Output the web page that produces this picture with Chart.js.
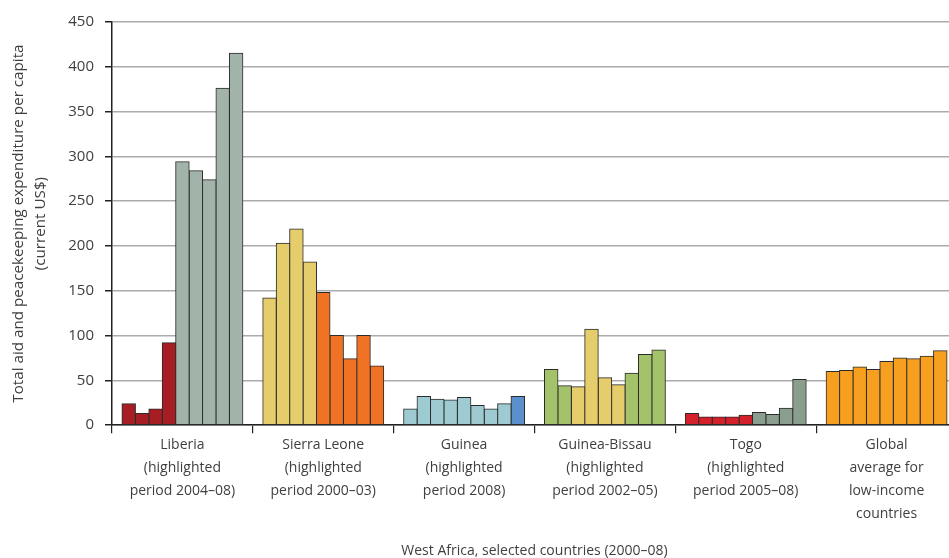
<!DOCTYPE html>
<html>
<head>
<meta charset="utf-8">
<script src="https://cdn.jsdelivr.net/npm/chart.js@4"></script>
<style>
  html, body { margin: 0; padding: 0; background: #fff; overflow: hidden; }
  #wrap { position: absolute; left: 0; top: 0; width: 960px; height: 558px; }
</style>
</head>
<body>
<div id="wrap"><canvas id="aidChart"></canvas></div>
<script>
// Total aid and peacekeeping expenditure per capita, 2000–08
const years = ['2000', '2001', '2002', '2003', '2004', '2005', '2006', '2007', '2008'];
const groupLabels = [
  ['Liberia', '(highlighted', 'period 2004–08)'],
  ['Sierra Leone', '(highlighted', 'period 2000–03)'],
  ['Guinea', '(highlighted', 'period 2008)'],
  ['Guinea-Bissau', '(highlighted', 'period 2002–05)'],
  ['Togo', '(highlighted', 'period 2005–08)'],
  ['Global', 'average for', 'low-income', 'countries']
];
const liberia = [24, 13, 18, 92, 294, 284, 274, 376, 415];
const sierraLeone = [142, 203, 219, 182, 148, 100, 74, 100, 66];
const guinea = [18, 32, 29, 28, 31, 22, 18, 24, 32];
const guineaBissau = [62, 44, 43, 107, 53, 45, 58, 79, 84];
const togo = [13, 9, 9, 9, 11, 14, 12, 19, 51];
const globalLowIncome = [60, 61, 65, 62, 71, 75, 74, 77, 83];
const yTicks = [0, 50, 100, 150, 200, 250, 300, 350, 400, 450];

// colours per bar (highlighted periods)
const RED_DK = '#a61e24', GREY_LT = '#a2b4a9', YEL = '#e6cd6b', ORA = '#f07225';
const TEAL = '#9dcbd1', BLUE = '#5b90cc', GRN = '#a4c26a', RED = '#d3202a';
const GREY_DK = '#8a9e8d', GOLD = '#f7a01f';
const liberiaColors = [RED_DK, RED_DK, RED_DK, RED_DK, GREY_LT, GREY_LT, GREY_LT, GREY_LT, GREY_LT];
const sierraColors = [YEL, YEL, YEL, YEL, ORA, ORA, ORA, ORA, ORA];
const guineaColors = [TEAL, TEAL, TEAL, TEAL, TEAL, TEAL, TEAL, TEAL, BLUE];
const bissauColors = [GRN, GRN, YEL, YEL, YEL, YEL, GRN, GRN, GRN];
const togoColors = [RED, RED, RED, RED, RED, GREY_DK, GREY_DK, GREY_DK, GREY_DK];
const globalColors = [GOLD, GOLD, GOLD, GOLD, GOLD, GOLD, GOLD, GOLD, GOLD];

const series = [liberia, sierraLeone, guinea, guineaBissau, togo, globalLowIncome];
const colorSets = [liberiaColors, sierraColors, guineaColors, bissauColors, togoColors, globalColors];

const FONT = "'Open Sans', 'Noto Sans', sans-serif";
const TEXT = '#3f3f3f';

document.addEventListener('DOMContentLoaded', function () {
  const ctx = document.getElementById('aidChart');
  new Chart(ctx, {
    type: 'bar',
    data: {
      labels: groupLabels,
      datasets: years.map((y, i) => ({
        label: y,
        data: series.map(s => s[i]),
        backgroundColor: colorSets.map(c => c[i]),
        borderColor: '#2b2b2b',
        borderWidth: 1,
        borderSkipped: false,
        inflateAmount: 0.5,
        barPercentage: 1.0,
        categoryPercentage: 0.858
      }))
    },
    options: {
      responsive: true,
      maintainAspectRatio: false,
      animation: false,
      layout: { padding: { top: 22, right: 3, left: 8, bottom: 0 } },
      plugins: {
        legend: { display: false },
        tooltip: { enabled: true }
      },
      scales: {
        x: {
          grid: {
            offset: true,
            drawOnChartArea: false,
            color: '#222',
            tickLength: 8,
            lineWidth: 1.2
          },
          border: { color: '#222', width: 1.5 },
          ticks: {
            color: TEXT,
            font: { family: FONT, size: 14, lineHeight: 1.64 },
            maxRotation: 0,
            autoSkip: false,
            padding: 0
          },
          title: {
            display: true,
            text: 'West Africa, selected countries (2000–08)',
            color: TEXT,
            font: { family: FONT, size: 14, lineHeight: 1.0 },
            padding: { top: 19, bottom: 0 }
          }
        },
        y: {
          min: 0,
          max: 450,
          afterBuildTicks: scale => { scale.ticks = yTicks.map(v => ({ value: v })); },
          afterFit: scale => { scale.width = 104; },
          grid: {
            color: '#ababab',
            lineWidth: 1.5,
            tickColor: '#222',
            tickLength: 7
          },
          border: { color: '#222', width: 1.5 },
          ticks: {
            color: TEXT,
            font: { family: FONT, size: 15 },
            padding: 11
          },
          title: {
            display: true,
            text: ['Total aid and peacekeeping expenditure per capita', '(current US$)'],
            color: TEXT,
            font: { family: FONT, size: 15.2, lineHeight: 1.45 },
            padding: { top: 0, bottom: 0 }
          }
        }
      }
    }
  });
});
</script>
</body>
</html>
